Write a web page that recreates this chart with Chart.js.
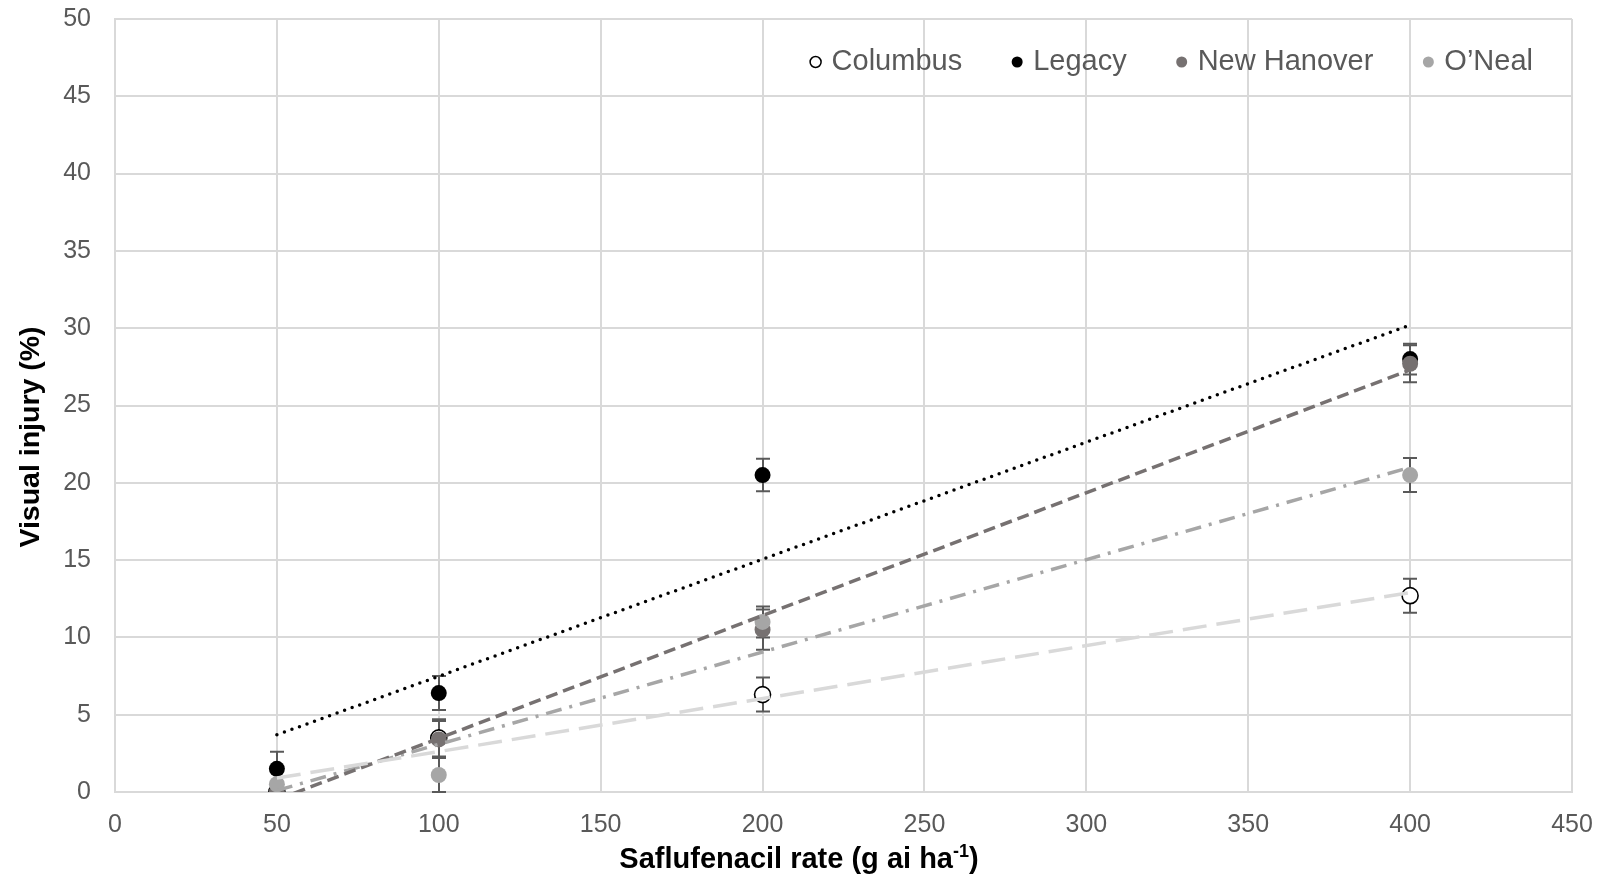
<!DOCTYPE html>
<html>
<head>
<meta charset="utf-8">
<script src="https://cdn.jsdelivr.net/npm/chart.js@4.4.1/dist/chart.umd.min.js"></script>
<style>
  html, body { margin: 0; padding: 0; background: #fff; }
</style>
</head>
<body>
<canvas id="myChart" width="1606" height="880"></canvas>
<script>
// data
const rates = [50, 100, 200, 400];
const seriesNames = ["Columbus", "Legacy", "New Hanover", "O\u2019Neal"];

const columbus = [0, 3.5, 6.3, 12.7];
const legacy = [1.5, 6.4, 20.5, 28.0];
const newHanover = [0, 3.4, 10.5, 27.7];
const oneal = [0.5, 1.1, 11.0, 20.5];

const columbusErr = [0, 1.2, 1.1, 1.1];
const legacyErr = [1.1, 1.1, 1.05, 1.0];
const newHanoverErr = [0, 1.2, 1.3, 1.2];
const onealErr = [0, 1.1, 1.0, 1.1];

// linear trendlines, value at first and last rate
const trendRates = [50, 400];
const columbusTrend = [0.9, 12.9];
const legacyTrend = [3.7, 30.2];
const newHanoverTrend = [-0.5, 27.3];
const onealTrend = [0.1, 21.0];

const xTicks = [0, 50, 100, 150, 200, 250, 300, 350, 400, 450];
const yTicks = [0, 5, 10, 15, 20, 25, 30, 35, 40, 45, 50];

const FONT = "'Liberation Sans', Arial, sans-serif";
const TEXT = "#595959";

function pts(xs, ys) {
  return xs.map((x, i) => ({ x: x, y: ys[i] }));
}

const markerStyles = [
  { bg: "#ffffff", border: "#000000", bw: 1.6 },
  { bg: "#000000", border: "#000000", bw: 0 },
  { bg: "#767171", border: "#767171", bw: 0 },
  { bg: "#a6a6a6", border: "#a6a6a6", bw: 0 },
];
const values = [columbus, legacy, newHanover, oneal];
const errors = [columbusErr, legacyErr, newHanoverErr, onealErr];
const trends = [columbusTrend, legacyTrend, newHanoverTrend, onealTrend];
const trendStyles = [
  { color: "#d9d9d9", dash: [24, 10], cap: "butt", w: 3.5 },
  { color: "#000000", dash: [0, 8], cap: "round", w: 3.5 },
  { color: "#767171", dash: [12, 6], cap: "butt", w: 3.5 },
  { color: "#a6a6a6", dash: [16, 8, 3, 8], cap: "butt", w: 3.5 },
];

const datasets = [];
seriesNames.forEach((name, i) => {
  datasets.push({
    label: name,
    data: pts(rates, values[i]),
    err: errors[i],
    showLine: false,
    pointRadius: 8,
    pointHoverRadius: 8,
    backgroundColor: markerStyles[i].bg,
    borderColor: markerStyles[i].border,
    pointBorderWidth: markerStyles[i].bw,
    order: 4 - i + 1,
  });
});
seriesNames.forEach((name, i) => {
  datasets.push({
    label: name + " trend",
    isTrend: true,
    data: pts(trendRates, trends[i]),
    showLine: true,
    pointRadius: 0,
    borderColor: trendStyles[i].color,
    borderWidth: trendStyles[i].w,
    borderDash: trendStyles[i].dash,
    borderCapStyle: trendStyles[i].cap,
    fill: false,
    order: 0,
  });
});

// error bars under the markers
const errorBars = {
  id: "errorBars",
  beforeDatasetsDraw(chart) {
    const { ctx, chartArea, scales } = chart;
    ctx.save();
    ctx.beginPath();
    ctx.rect(chartArea.left, chartArea.top - 2, chartArea.right - chartArea.left, chartArea.bottom - chartArea.top + 4);
    ctx.clip();
    ctx.strokeStyle = "#595959";
    ctx.lineWidth = 2;
    chart.data.datasets.forEach((ds) => {
      if (!ds.err) return;
      ds.data.forEach((p, i) => {
        const e = ds.err[i];
        if (!e) return;
        const px = Math.round(scales.x.getPixelForValue(p.x));
        const top = scales.y.getPixelForValue(p.y + e);
        const bot = scales.y.getPixelForValue(p.y - e);
        ctx.beginPath();
        ctx.moveTo(px, top);
        ctx.lineTo(px, bot);
        ctx.moveTo(px - 7, top);
        ctx.lineTo(px + 7, top);
        ctx.moveTo(px - 7, bot);
        ctx.lineTo(px + 7, bot);
        ctx.stroke();
      });
    });
    ctx.restore();
  },
};

// axis titles and legend
const extras = {
  id: "extras",
  afterDraw(chart) {
    const { ctx } = chart;
    ctx.save();

    // y title
    ctx.fillStyle = "#000";
    ctx.font = "bold 28.5px " + FONT;
    ctx.textAlign = "center";
    ctx.textBaseline = "middle";
    ctx.translate(31, 437);
    ctx.rotate(-Math.PI / 2);
    ctx.fillText("Visual injury (%)", 0, 0);
    ctx.setTransform(1, 0, 0, 1, 0, 0);

    // x title with superscript
    const main = "Saflufenacil rate (g ai ha";
    const sup = "-1";
    const tail = ")";
    ctx.textAlign = "left";
    ctx.textBaseline = "alphabetic";
    ctx.font = "bold 29px " + FONT;
    const w1 = ctx.measureText(main).width;
    const w3 = ctx.measureText(tail).width;
    ctx.font = "bold 18px " + FONT;
    const w2 = ctx.measureText(sup).width;
    let x0 = 799 - (w1 + w2 + w3) / 2;
    const base = 868;
    ctx.font = "bold 29px " + FONT;
    ctx.fillText(main, x0, base);
    ctx.font = "bold 18px " + FONT;
    ctx.fillText(sup, x0 + w1, base - 11);
    ctx.font = "bold 29px " + FONT;
    ctx.fillText(tail, x0 + w1 + w2, base);

    // legend, right-aligned inside the plot
    ctx.font = "29px " + FONT;
    ctx.textBaseline = "middle";
    const ly = 62;
    let right = 1533;
    for (let i = seriesNames.length - 1; i >= 0; i--) {
      const tw = ctx.measureText(seriesNames[i]).width;
      const tx = right - tw;
      const mx = tx - 16;
      ctx.fillStyle = TEXT;
      ctx.fillText(seriesNames[i], tx, ly);
      ctx.beginPath();
      ctx.arc(mx, ly, 5.5, 0, Math.PI * 2);
      ctx.fillStyle = markerStyles[i].bg;
      ctx.fill();
      if (markerStyles[i].bw) {
        ctx.lineWidth = 1.5;
        ctx.strokeStyle = markerStyles[i].border;
        ctx.stroke();
      }
      right = mx - 5 - 50;
    }
    ctx.restore();
  },
};

const ctx = document.getElementById("myChart");

new Chart(ctx, {
  type: "scatter",
  data: { datasets: datasets },
  options: {
    responsive: false,
    animation: false,
    layout: { padding: { left: 0, right: 34, top: 19, bottom: 0 } },
    scales: {
      x: {
        type: "linear",
        min: 0,
        max: 450,
        afterFit: (s) => {
          s.height = 88;
          s.paddingLeft = 0;
          s.paddingRight = 0;
        },
        afterBuildTicks: (s) => { s.ticks = xTicks.map((v) => ({ value: v })); },
        border: { display: true, color: "#d9d9d9", width: 2 },
        grid: { color: "#d9d9d9", lineWidth: 2, drawTicks: false },
        ticks: {
          padding: 18,
          color: TEXT,
          font: { family: FONT, size: 25 },
        },
      },
      y: {
        type: "linear",
        min: 0,
        max: 50,
        afterFit: (s) => {
          s.width = 115;
          s.paddingTop = 0;
          s.paddingBottom = 0;
        },
        afterBuildTicks: (s) => { s.ticks = yTicks.map((v) => ({ value: v })); },
        border: { display: true, color: "#d9d9d9", width: 2 },
        grid: { color: "#d9d9d9", lineWidth: 2, drawTicks: false },
        ticks: {
          padding: 24,
          color: TEXT,
          font: { family: FONT, size: 25 },
        },
      },
    },
    plugins: {
      legend: { display: false },
      tooltip: { enabled: false },
    },
  },
  plugins: [errorBars, extras],
});
</script>
</body>
</html>
